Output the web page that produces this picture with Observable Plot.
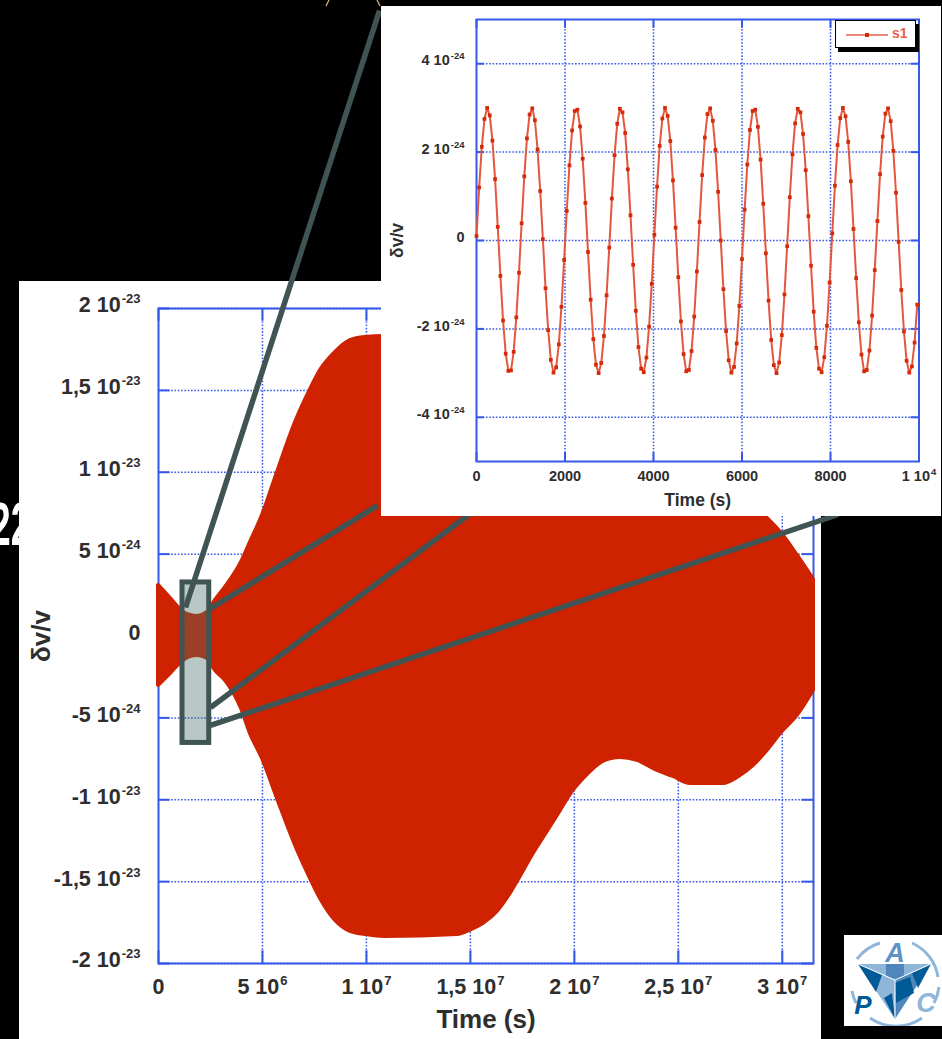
<!DOCTYPE html>
<html>
<head>
<meta charset="utf-8">
<script src="https://cdn.jsdelivr.net/npm/d3@7"></script>
<script src="https://cdn.jsdelivr.net/npm/@observablehq/plot@0.6"></script>
<style>
html,body{margin:0;padding:0;background:#000;width:942px;height:1039px;overflow:hidden}
#page{position:relative;width:942px;height:1039px;overflow:hidden;font-family:"Liberation Sans",sans-serif}
#page>*{position:absolute}
#clipped{left:0;top:486px;width:19px;height:80px;overflow:hidden;color:#fff;font:bold 62px/76px "Liberation Sans Narrow","Liberation Sans",sans-serif;white-space:nowrap}
#clipped span{display:inline-block;position:relative;left:-10px;transform-origin:0 50%;transform:scaleX(.6)}
#sheet{left:19px;top:281px;width:802px;height:758px;background:#fff}
#insetSheet{left:381px;top:6px;width:560px;height:510px;background:#fff}
#legend{left:835px;top:20px;width:79px;height:26px;background:#fff;border:1px solid #000;box-shadow:3px 4px 0 #000}
#legendText{position:absolute;left:56px;top:4px;font:bold 14px "Liberation Sans";color:#e8604c}
</style>
</head>
<body>
<div id="page">
  <svg style="left:0;top:0" width="942" height="12"><path d="M329 0L326 6M377 0L380 6" stroke="#e8b070" stroke-width="1.2"/></svg>
  <div id="clipped"><span>22</span></div>
  <div id="sheet"></div>
  <div id="mainPlot" style="left:0;top:0"></div>
  <div id="insetSheet"></div>
  <div id="insetPlot" style="left:381px;top:6px"></div>
  <div id="legend">
    <svg width="79" height="26" style="position:absolute;left:0;top:0"><path d="M10 14H52" stroke="#e8604c" stroke-width="1.6"/><rect x="29" y="12" width="4" height="4" fill="#d42a0a"/></svg>
    <div id="legendText">s1</div>
  </div>
  <svg id="logo" style="left:844px;top:935px;background:#fff" width="98" height="91" viewBox="0 0 98 91">
    <g fill="none" stroke="#8fb6d9" stroke-width="3">
      <path d="M13 24A45 45 0 0 1 36 8"/><path d="M68 8A45 45 0 0 1 94 42"/><path d="M95 52A45 45 0 0 1 90 68"/>
      <path d="M8 56A45 45 0 0 0 12 68"/><path d="M26 83A45 45 0 0 0 78 83"/>
    </g>
    <polygon points="14,29 87,29 51,45" fill="#8fb6d9"/>
    <polygon points="42,29 60,29 60,41 51,45 42,41" fill="#4f86bb"/>
    <polygon points="14,29 51,45 51,84" fill="#8fb6d9"/>
    <polygon points="14,29 38,40 32,57" fill="#005a96"/>
    <polygon points="40,63 48,58 51,84" fill="#005a96"/>
    <polygon points="87,29 51,45 51,84" fill="#4f86bb"/>
    <polygon points="87,29 68,38 74,53" fill="#005a96"/>
    <polygon points="51,48 66,42 70,58 52,68" fill="#005a96"/>
    <path d="M14 29L51 45L87 29M51 45V84" stroke="#fff" stroke-width="1" fill="none"/>
    <text x="51" y="27" font-family="Liberation Sans" font-weight="700" font-style="italic" font-size="27" fill="#5f92c4" text-anchor="middle">A</text>
    <text x="19" y="79" font-family="Liberation Sans" font-weight="700" font-style="italic" font-size="26" fill="#005a96" text-anchor="middle">P</text>
    <text x="82" y="77" font-family="Liberation Sans" font-weight="700" font-style="italic" font-size="27" fill="#8fb6d9" text-anchor="middle">C</text>
  </svg>
</div>
<script>
// ---- main chart: time in 10^6 s, delta-nu/nu in 10^-24 ----
const envelopeTime = [0,.58,1.2,1.88,2.36,2.74,3.22,3.99,4.42,5,5.72,6.59,7.31,7.79,8.51,9.23,9.95,10.9,14.38,15,15.63,16.3,16.92,17.4,18.03,18.7,19.33,19.95,20.63,21.39,22.21,23.03,23.99,24.76,25.58,27.16,27.98,28.61,29.28,30,30.72,31.5];
const envelopeUpper = [3.09,2.29,1.44,1.19,1.44,2.17,2.96,4.49,5.71,7.36,9.98,13.04,15.05,16.21,17.32,18.04,18.23,18.29,18.23,17.96,17.55,16.82,15.72,14.68,13.28,11.94,10.66,9.43,8.46,7.66,7.42,7.6,8.21,8.58,9.01,9.01,8.52,7.91,7.18,6.2,4.92,3.45];
const envelopeLower = [-3.02,-2.29,-1.48,-1.19,-1.38,-2.11,-2.72,-4.43,-5.95,-7.48,-9.92,-12.79,-14.81,-16.03,-17.37,-18.04,-18.23,-18.35,-18.23,-17.96,-17.55,-16.82,-15.72,-14.68,-13.28,-11.94,-10.66,-9.43,-8.46,-7.66,-7.42,-7.6,-8.21,-8.58,-9.01,-9.01,-8.52,-7.91,-6.99,-5.83,-4.86,-3.33];
const mainXTicks = [0,5,10,15,20,25,30];
const mainXLabels = ["0","5 10^6","1 10^7","1,5 10^7","2 10^7","2,5 10^7","3 10^7"];
const mainYTicks = [-20,-15,-10,-5,0,5,10,15,20];
const mainYLabels = ["-2 10^-23","-1,5 10^-23","-1 10^-23","-5 10^-24","0","5 10^-24","1 10^-23","1,5 10^-23","2 10^-23"];
const zoomBox = {t1:1.154,t2:2.44,v1:-6.53,v2:3.27};
const connectorStart = [[1.30,1.74],[2.5,1.68],[2.5,-4.37],[2.5,-5.46]];
const connectorEnd = [[10.63,38.19],[10.53,7.97],[15.0,7.48],[32.69,7.42]];

// ---- inset: time in s (one sample every 60 s), delta-nu/nu in 10^-24 ----
const insetStep = 60;
const insetValues = [.10,1.20,2.12,2.75,3.00,2.83,2.26,1.39,.31,-.80,-1.81,-2.56,-2.95,-2.94,-2.52,-1.74,-.73,
.39,1.45,2.31,2.85,2.99,2.72,2.06,1.12,.03,-1.08,-2.03,-2.70,-2.99,-2.87,-2.35,-1.50,-.44,
.67,1.70,2.49,2.93,2.96,2.58,1.85,.85,-.26,-1.34,-2.23,-2.81,-3.00,-2.77,-2.16,-1.24,-.16,
.95,1.93,2.64,2.98,2.90,2.43,1.61,.57,-.55,-1.59,-2.41,-2.90,-2.98,-2.65,-1.95,-.98,
.13,1.22,2.14,2.76,3.00,2.82,2.25,1.36,.29,-.83,-1.83,-2.57,-2.96,-2.93,-2.50,-1.72,-.70,
.42,1.48,2.33,2.86,2.99,2.71,2.05,1.10,0,-1.10,-2.05,-2.71,-2.99,-2.86,-2.33,-1.48,-.42,
.70,1.72,2.50,2.93,2.96,2.57,1.83,.83,-.29,-1.36,-2.25,-2.82,-3.00,-2.76,-2.14,-1.22,-.13,
.98,1.95,2.65,2.98,2.90,2.41,1.59,.55,-.57,-1.61,-2.43,-2.90,-2.98,-2.64,-1.93,-.95,
.16,1.24,2.16,2.77,3.00,2.81,2.23,1.34,.26,-.85,-1.85,-2.58,-2.96,-2.93,-2.49,-1.70,-.67,
.44,1.50,2.35,2.87,2.99,2.70,2.03,1.08,-.03,-1.12,-2.06,-2.72,-2.99,-2.85,-2.31,-1.45];
const insetXTicks = [0,2000,4000,6000,8000,10000];
const insetXLabels = ["0","2000","4000","6000","8000","1 10^4"];
const insetYTicks = [-4,-2,0,2,4];
const insetYLabels = ["-4 10^-24","-2 10^-24","0","2 10^-24","4 10^-24"];

const blue = "#3658ea", ink = "#2e2e2e", red = "#cf2200", teal = "#3f5453";
const labelOf = (ticks, labels) => d => labels[ticks.indexOf(d)];

function frameMarks(xDom, yDom, xTicks, yTicks, xLab, yLab, o) {
  const dash = {stroke: blue, strokeWidth: 1.5, strokeDasharray: "1.6,1.7"};
  const solid = {stroke: blue, strokeWidth: 2};
  return [
    Plot.ruleX(xTicks.slice(1), {x: d => d, ...dash}),
    Plot.ruleY(yTicks, {y: d => d, ...dash}),
    Plot.ruleX(xTicks, {x: d => d, y1: yDom[0], y2: yDom[0] + o.xTick, ...solid}),
    Plot.ruleX(xTicks, {x: d => d, y1: yDom[1], y2: yDom[1] - o.xTick, ...solid}),
    Plot.ruleY(yTicks, {y: d => d, x1: xDom[0], x2: xDom[0] + o.yTick, ...solid}),
    Plot.ruleY(yTicks, {y: d => d, x1: xDom[1], x2: xDom[1] - o.yTick, ...solid}),
    Plot.frame({stroke: blue, strokeWidth: 2}),
    Plot.axisX(xTicks, {anchor: "bottom", tickSize: 0, tickPadding: o.xPad, tickFormat: labelOf(xTicks, xLab), label: null, fill: ink, fontSize: o.font, fontWeight: 700}),
    Plot.axisY(yTicks, {anchor: "left", tickSize: 0, tickPadding: o.yPad, tickFormat: labelOf(yTicks, yLab), label: null, fill: ink, fontSize: o.font, fontWeight: 700, dy: -3}),
    Plot.text(["Time (s)"], {frameAnchor: "bottom", textAnchor: "middle", dy: o.xTitleDy, fontSize: o.title, fontWeight: 700, fill: ink}),
    Plot.text(["δv/v"], {frameAnchor: "left", textAnchor: "middle", rotate: -90, dx: o.yTitleDx, fontSize: o.title, fontWeight: 700, fill: ink})
  ];
}

// turn "2 10^-23" tick labels into real text with a raised exponent
function raiseExponents(chart, size, raise) {
  chart.querySelectorAll("text").forEach(t => {
    const host = t.querySelector("tspan") && t.textContent.includes("^") ? t.querySelector("tspan") : t;
    if (!host.textContent.includes("^")) return;
    const [base, exp] = host.textContent.split("^");
    host.textContent = base;
    const sup = document.createElementNS("http://www.w3.org/2000/svg", "tspan");
    sup.setAttribute("font-size", size);
    sup.setAttribute("dy", -raise);
    sup.setAttribute("dx", 1);
    sup.textContent = exp;
    host.appendChild(sup);
  });
  return chart;
}

const fontStyle = {background: "transparent", fontFamily: "'Liberation Sans',sans-serif", overflow: "visible"};

const envelope = envelopeTime.map((t, i) => ({t, hi: envelopeUpper[i], lo: envelopeLower[i]}));
const connectors = connectorStart.map((s, i) => ({t1: s[0], v1: s[1], t2: connectorEnd[i][0], v2: connectorEnd[i][1]}));

const mainChart = Plot.plot({
  width: 942, height: 1039,
  marginLeft: 158, marginRight: 129, marginTop: 308, marginBottom: 76,
  style: fontStyle,
  x: {domain: [0, 31.5], axis: null},
  y: {domain: [-20, 20], axis: null},
  marks: [
    ...frameMarks([0, 31.5], [-20, 20], mainXTicks, mainYTicks, mainXLabels, mainYLabels, {xTick: 0.78, yTick: 0.55, xPad: 15, yPad: 18, font: 21.5, title: 26, xTitleDy: 64, yTitleDx: -117}),
    Plot.areaY(envelope, {x: "t", y1: "lo", y2: "hi", curve: "monotone-x", fill: red, stroke: red, strokeWidth: 4, strokeLinejoin: "round"}),
    Plot.rect([zoomBox], {x1: "t1", x2: "t2", y1: "v1", y2: "v2", fill: "rgb(70,110,100)", fillOpacity: 0.38, stroke: teal, strokeWidth: 5}),
    Plot.link(connectors, {x1: "t1", y1: "v1", x2: "t2", y2: "v2", stroke: teal, strokeWidth: 5.5})
  ]
});
document.getElementById("mainPlot").appendChild(raiseExponents(mainChart, 13, 9));

const inset = insetValues.map((v, i) => ({t: i * insetStep, v}));
const insetChart = Plot.plot({
  width: 560, height: 510,
  marginLeft: 95, marginRight: 22.5, marginTop: 13, marginBottom: 55,
  style: fontStyle,
  x: {domain: [0, 10000], axis: null},
  y: {domain: [-5, 5], axis: null},
  marks: [
    ...frameMarks([0, 10000], [-5, 5], insetXTicks, insetYTicks, insetXLabels, insetYLabels, {xTick: 0.2, yTick: 180, xPad: 9, yPad: 12, font: 14.5, title: 17.5, xTitleDy: 44, yTitleDx: -79}),
    Plot.line(inset, {x: "t", y: "v", stroke: "#e4573f", strokeWidth: 2}),
    Plot.dot(inset, {x: "t", y: "v", symbol: "square", r: 2.1, fill: "#d42a0a"})
  ]
});
document.getElementById("insetPlot").appendChild(raiseExponents(insetChart, 9.5, 6));
</script>
</body>
</html>
